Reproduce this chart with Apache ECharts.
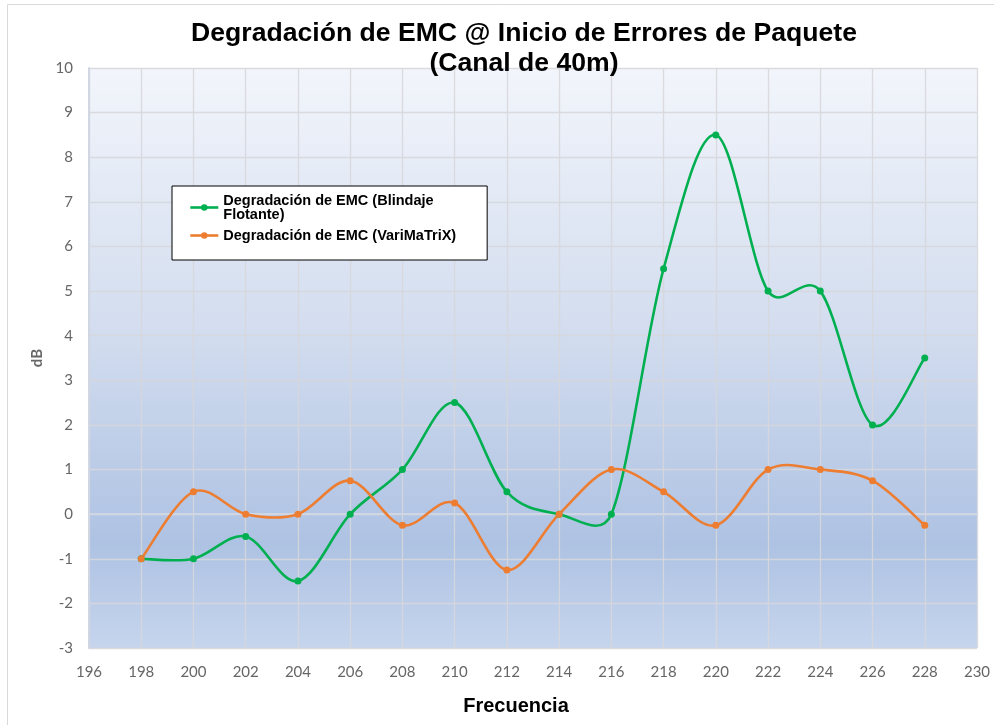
<!DOCTYPE html>
<html><head><meta charset="utf-8">
<script src="https://cdn.jsdelivr.net/npm/echarts@6/dist/echarts.min.js"></script>
<style>html,body{margin:0;padding:0;background:#fff}#c{width:994px;height:725px}</style>
</head><body><div id="c"></div>
<script>
var freqs = [198,200,202,204,206,208,210,212,214,216,218,220,222,224,226,228];
var blindaje = [-1,-1,-0.5,-1.5,0,1,2.5,0.5,0,0,5.5,8.5,5,5,2,3.5];
var varimatrix = [-1,0.5,0,0,0.75,-0.25,0.25,-1.25,0,1,0.5,-0.25,1,1,0.75,-0.25];
var seriesNames = ['Degradación de EMC (Blindaje\nFlotante)','Degradación de EMC (VariMaTriX)'];
var titleLines = ['Degradación de EMC @ Inicio de Errores de Paquete','(Canal de 40m)'];
var colors = ['#00b050','#ed7d31'];

function pairs(xs, ys){ return xs.map(function(x,i){ return [x, ys[i]]; }); }

// Spreadsheet-style smoothed segment computed in pixel space via the axes
function curveSeries(ys, color){
  return {
    type:'custom', silent:true, z:2,
    data: pairs(freqs, ys),
    renderItem: function(params, api){
      var i = params.dataIndex, n = freqs.length;
      if (i >= n - 1) return null;
      function P(k){ k = Math.max(0, Math.min(n-1, k)); return api.coord([freqs[k], ys[k]]); }
      function dist(a,b){ return Math.hypot(a[0]-b[0], a[1]-b[1]); }
      var p0 = P(i-1), p1 = P(i), p2 = P(i+1), p3 = P(i+2);
      var d12 = dist(p1,p2), d02 = dist(p0,p2), d13 = dist(p1,p3);
      var f1 = d02/6 < d12/2 ? 1/6 : (d12/2)/d02;
      var f2 = d13/6 < d12/2 ? 1/6 : (d12/2)/d13;
      if (!isFinite(f1)) f1 = 0; if (!isFinite(f2)) f2 = 0;
      return {
        type:'bezierCurve',
        shape:{x1:p1[0], y1:p1[1], x2:p2[0], y2:p2[1],
          cpx1:p1[0]+(p2[0]-p0[0])*f1, cpy1:p1[1]+(p2[1]-p0[1])*f1,
          cpx2:p2[0]-(p3[0]-p1[0])*f2, cpy2:p2[1]-(p3[1]-p1[1])*f2},
        style:{stroke:color, lineWidth:2.6, fill:null, lineCap:'round'}
      };
    }
  };
}

var chart = echarts.init(document.getElementById('c'), null, {renderer:'canvas'});
var labelFont = 'Lato, "Open Sans", sans-serif';
chart.setOption({
  animation:false,
  backgroundColor:'#fff',
  title:{
    text: titleLines.join('\n'),
    left: 519, top: 14, textAlign:'center',
    textStyle:{fontFamily:'"Liberation Sans", Arial, sans-serif', fontWeight:'bold', fontSize:26.6, color:'#000', lineHeight:30}
  },
  graphic:[{type:'rect', shape:{x:7.5,y:4.5,width:1000,height:740}, style:{fill:'none', stroke:'#d9d9d9', lineWidth:1}, silent:true}],
  legend:{
    orient:'vertical', left:172, top:186,
    backgroundColor:'#fff', borderColor:'#000', borderWidth:1, borderRadius:0,
    padding:[7,31,17,17],
    itemWidth:28, itemHeight:8, itemGap:6,
    data:[
      {name:seriesNames[0], lineStyle:{opacity:1, width:2.6, color:colors[0]}},
      {name:seriesNames[1], lineStyle:{opacity:1, width:2.6, color:colors[1]}}
    ],
    textStyle:{fontFamily:'"Liberation Sans", Arial, sans-serif', fontWeight:'bold', fontSize:14.5, color:'#000', lineHeight:14}
  },
  grid:{left:89, right:17, top:68, bottom:77, containLabel:false,
    backgroundColor:{type:'linear',x:0,y:0,x2:0,y2:1,colorStops:[{offset:0,color:'#f2f5fb'},{offset:0.45,color:'#d3ddef'},{offset:0.82,color:'#aec2e3'},{offset:1,color:'#c6d5ed'}]},
    show:true, borderWidth:0},
  xAxis:{
    type:'value', min:196, max:230, interval:2,
    name:'Frecuencia', nameLocation:'middle', nameGap:48,
    nameTextStyle:{fontFamily:'"Liberation Sans", Arial, sans-serif', fontWeight:'bold', fontSize:20, color:'#000', padding:[0,34,0,0]},
    axisLine:{show:true, lineStyle:{color:'#d0d6e2', width:2}},
    axisTick:{show:false},
    axisLabel:{fontFamily:labelFont, fontSize:15, color:'#666', margin:17},
    splitLine:{show:true, lineStyle:{color:'rgba(215,215,220,0.9)', width:1.3}}
  },
  yAxis:{
    type:'value', min:-3, max:10, interval:1,
    name:'dB', nameLocation:'middle', nameGap:42, nameRotate:90,
    nameTextStyle:{fontFamily:labelFont, fontWeight:'bold', fontSize:15, color:'#666'},
    axisLine:{show:true, lineStyle:{color:'#d0d6e2', width:2}},
    axisTick:{show:false},
    axisLabel:{fontFamily:labelFont, fontSize:15, color:'#666', margin:16},
    splitLine:{show:true, lineStyle:{color:'rgba(215,215,220,0.9)', width:1.3}}
  },
  series:[
    curveSeries(blindaje, colors[0]),
    curveSeries(varimatrix, colors[1]),
    {name:seriesNames[0], type:'line', data:pairs(freqs, blindaje), z:3,
     symbol:'circle', symbolSize:7, lineStyle:{color:colors[0], width:2.6, opacity:0}, itemStyle:{color:colors[0]}},
    {name:seriesNames[1], type:'line', data:pairs(freqs, varimatrix), z:3,
     symbol:'circle', symbolSize:7, lineStyle:{color:colors[1], width:2.6, opacity:0}, itemStyle:{color:colors[1]}}
  ]
});
</script></body></html>
